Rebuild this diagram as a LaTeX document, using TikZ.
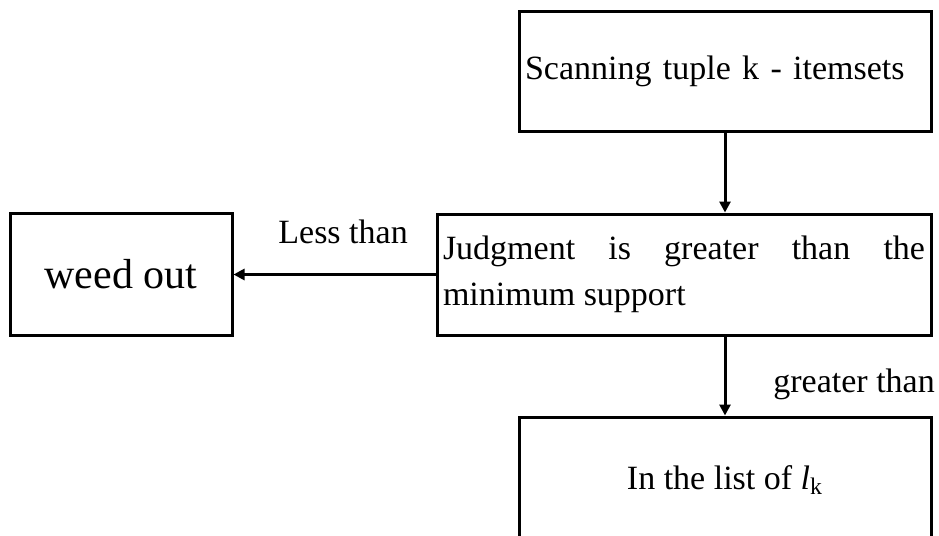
\documentclass[tikz,border=0pt]{standalone}
\usepackage{fontspec}
\setmainfont{Liberation Serif}
\usepackage{tikz}
\usetikzlibrary{arrows.meta, positioning}
\hyphenpenalty=10000

\begin{document}
\begin{tikzpicture}[x=0.5pt, y=-0.5pt,
    box/.style={draw, line width=1.5pt, inner sep=3pt, font=\fontsize{17}{23}\selectfont},
    flow/.style={-{Triangle[length=5.5pt, width=5.5pt]}, line width=1.5pt},
    lbl/.style={font=\fontsize{17}{23}\selectfont, inner sep=0pt, anchor=base west}]
    \useasboundingbox (0,0) rectangle (939,536);

    % Scanning step
    \node[box, minimum width=206pt, minimum height=60pt, text width=200pt, align=left]
        (scan) at (725,71) {Scanning tuple k - itemsets};

    % Support check
    \node[box, minimum height=60.5pt, text width=241pt, align=justify]
        (judge) at (684,274.5) {Judgment is greater than the minimum support};

    % Rejected
    \node[box, minimum width=111pt, minimum height=61pt, font=\fontsize{21}{25}\selectfont]
        (weed) at (121,274.5) {weed out};

    % Kept
    \node[box, minimum width=206pt, minimum height=63pt]
        (list) at (725,480) {In the list of \textit{l}\textsubscript{k}};

    % Arrows
    \draw[flow] (scan.south) -- (scan.south |- judge.north);
    \draw[flow] (list.north |- judge.south) -- (list.north);
    \draw[flow] (judge.west) -- (judge.west -| weed.east);

    % Labels
    \node[lbl] (less) at (278,243) {Less than};
    \node[lbl] (greater) at (773,392) {greater than};
\end{tikzpicture}
\end{document}
